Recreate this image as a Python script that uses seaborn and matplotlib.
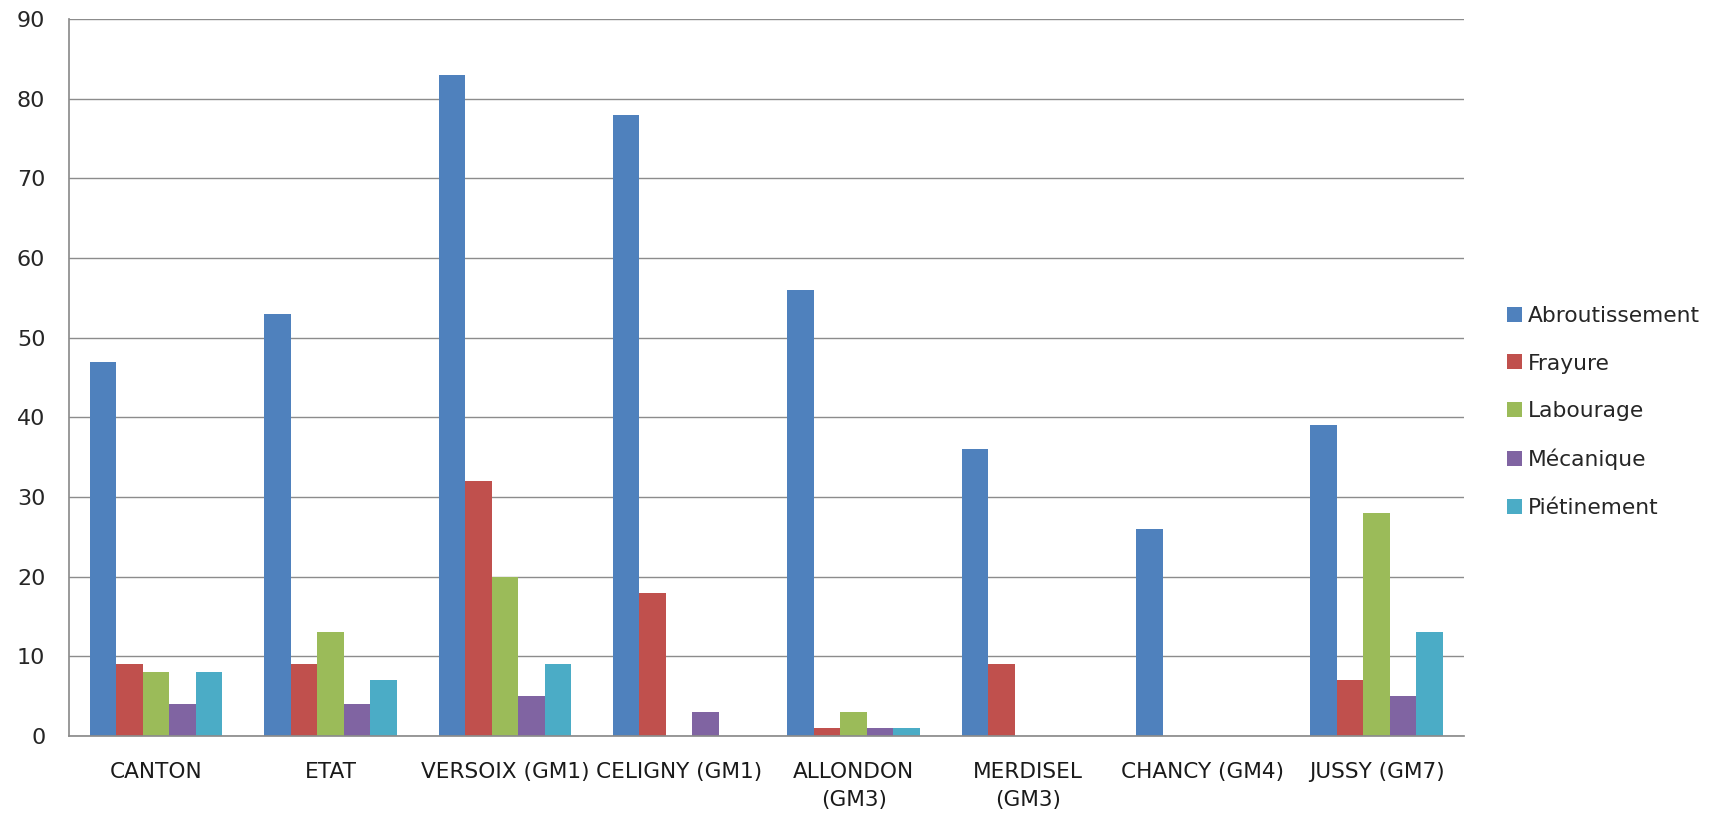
import matplotlib
matplotlib.use("Agg")
import matplotlib.pyplot as plt
import seaborn as sns
import pandas as pd

sites = ["CANTON", "ETAT", "VERSOIX (GM1)", "CELIGNY (GM1)", "ALLONDON\n(GM3)",
         "MERDISEL\n(GM3)", "CHANCY (GM4)", "JUSSY (GM7)"]
damage_types = ["Abroutissement", "Frayure", "Labourage", "Mécanique", "Piétinement"]

abroutissement = [47, 53, 83, 78, 56, 36, 26, 39]
frayure = [9, 9, 32, 18, 1, 9, 0, 7]
labourage = [8, 13, 20, 0, 3, 0, 0, 28]
mecanique = [4, 4, 5, 3, 1, 0, 0, 5]
pietinement = [8, 7, 9, 0, 1, 0, 0, 13]

colors = ["#4F81BD", "#C0504D", "#9BBB59", "#8064A2", "#4BACC6"]

series = [abroutissement, frayure, labourage, mecanique, pietinement]
rows = []
for name, vals in zip(damage_types, series):
    for site, v in zip(sites, vals):
        rows.append({"site": site, "type": name, "count": v})
df = pd.DataFrame(rows)

sns.set_theme(style="white")
plt.rcParams["font.family"] = ["DejaVu Sans"]

fig = plt.figure(figsize=(17.15, 8.19), dpi=100)
ax = fig.add_axes([0.0402, 0.1013, 0.8134, 0.8755])

sns.barplot(data=df, x="site", y="count", hue="type", order=sites,
            hue_order=damage_types, palette=colors, width=0.76,
            saturation=1, linewidth=0, ax=ax, legend=True)

ax.set_ylim(0, 90)
ax.set_yticks(range(0, 91, 10))
ax.set_xlim(-0.5, len(sites) - 0.5)
ax.yaxis.grid(True, color="#8C8C8C", linewidth=1.0)
ax.set_axisbelow(True)
ax.set_xlabel("")
ax.set_ylabel("")
for side in ["top", "right"]:
    ax.spines[side].set_visible(False)
ax.spines["left"].set_color("#8C8C8C")
ax.spines["bottom"].set_color("#8C8C8C")
ax.tick_params(axis="y", labelsize=16, length=0, pad=17, labelcolor="#262626")
ax.tick_params(axis="x", labelsize=15.6, length=0, pad=19, labelcolor="#1A1A1A")
for lbl in ax.get_xticklabels():
    lbl.set_linespacing(1.45)

handles, labels = ax.get_legend_handles_labels()
ax.legend(handles, labels, loc="center left", bbox_to_anchor=(0.867, 0.497),
          bbox_transform=fig.transFigure, frameon=False, fontsize=15.7,
          handlelength=0.69, handleheight=0.69, handletextpad=0.3,
          labelspacing=1.27, borderpad=0.4)

fig.savefig("out.png", dpi=100)
